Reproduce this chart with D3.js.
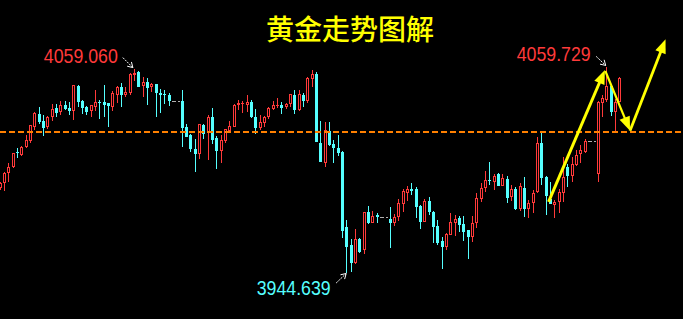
<!DOCTYPE html>
<html>
<head>
<meta charset="utf-8">
<style>
  html, body { margin: 0; padding: 0; background: #000; }
  svg { display: block; }
</style>
</head>
<body>
<div id="chart"></div>
<script src="https://cdn.jsdelivr.net/npm/d3@7"></script>
<script>
// candle values (null = no bars in that slot)
const open = [
  3992.2, 3994.9, 4000.8, 4003.8, 4012.4, 4010.7, 4015.0, 4018.7, 4026.5, 4033.7, 4029.7, 4026.5,
  4031.8, 4037.0, 4034.8, 4038.5, 4037.0, 4035.5, 4049.3, 4040.8, 4037.8, 4035.2, 4037.8, 4040.4,
  4040.4, 4039.6, 4037.8, 4044.5, 4049.0, 4044.3, 4045.6, 4055.5, 4057.2, 4049.3, 4051.6, 4048.6,
  4050.5, 4045.6, 4044.9, 4044.1, null, null, 4040.8, 4026.5, 4021.9, 4014.1, 4011.3, 4027.3,
  4022.9, 4031.8, 4020.1, 4013.1, 4018.7, 4024.3, 4026.5, 4038.5, 4039.3, 4038.9, 4040.4, 4031.8,
  4025.8, 4028.8, 4031.8, 4036.6, 4038.1, 4038.7, 4037.8, 4039.1, 4044.3, 4035.9, 4044.3, 4041.1,
  4053.4, 4056.1, 4017.6, 4006.4, 4024.1, 4016.9, 4014.6, 4012.4, 3970.5, 3960.3, 3950.1, 3963.7,
  3957.5, 3978.6, 3972.8, 3976.9, null, null, 3975.0, 3972.8, 3975.8, 3983.3, 3989.6, 3991.8,
  3991.5, 3982.1, 3973.4, 3985.1, 3978.8, 3970.9, 3962.7, 3959.4, 3966.1, 3972.8, 3975.4, 3972.1,
  3968.7, 3965.0, 3972.5, 3986.1, 3992.4, 3996.7, 3995.8, 4000.1, 3993.5, 3997.5, 3987.3, 3991.5,
  3980.3, 3992.1, 3980.6, 3983.7, 3990.2, 4017.3, 3998.2, 3985.9, 3982.7, 3984.6, 3989.6, 4003.8,
  3998.9, 4005.1, 4011.3, 4012.5, null, null, 4000.1, 4040.0, 4041.5, 4049.3, 4035.0, 4040.6
];
const high = [
  3995.6, 4001.3, 4006.1, 4011.8, 4014.5, 4015.7, 4021.9, 4027.5, 4035.0, 4037.4, 4032.9, 4032.5,
  4039.3, 4039.3, 4040.8, 4040.8, 4040.4, 4049.9, 4050.1, 4041.5, 4038.0, 4038.7, 4047.1, 4041.5,
  4049.9, 4039.8, 4046.7, 4049.3, 4050.9, 4048.6, 4056.4, 4059.06, 4057.5, 4054.2, 4053.8, 4051.2,
  4050.7, 4047.5, 4047.1, 4045.3, null, null, 4047.1, 4028.1, 4022.5, 4019.5, 4028.3, 4028.1,
  4032.9, 4036.9, 4021.3, 4021.7, 4025.3, 4029.6, 4039.3, 4041.5, 4040.8, 4044.3, 4041.5, 4036.3,
  4033.1, 4032.5, 4037.8, 4040.8, 4042.6, 4040.4, 4040.0, 4045.1, 4047.1, 4047.1, 4045.6, 4054.2,
  4058.3, 4057.4, 4029.9, 4029.4, 4029.2, 4019.1, 4021.9, 4013.1, 3974.3, 3963.5, 3969.1, 3964.1,
  3978.8, 3982.1, 3979.5, 3978.4, null, null, 3981.8, 3977.7, 3985.9, 3991.5, 3993.3, 3995.2,
  3993.0, 3982.7, 3985.9, 3987.3, 3979.5, 3974.3, 3964.6, 3966.9, 3978.4, 3976.9, 3976.5, 3976.5,
  3968.9, 3976.5, 3989.6, 3995.2, 4001.6, 4006.8, 4000.1, 4000.8, 4000.1, 3998.9, 3993.9, 3992.6,
  3995.2, 3998.5, 3985.5, 3991.1, 4021.0, 4023.2, 3998.9, 3995.8, 3985.5, 3991.5, 4009.4, 4005.7,
  4009.7, 4013.5, 4016.3, 4019.5, null, null, 4040.8, 4044.3, 4059.729, 4049.9, 4042.1, 4054.6
];
const low = [
  3991.1, 3990.7, 3995.8, 4003.4, 4008.9, 4010.4, 4014.5, 4017.3, 4024.7, 4028.1, 4021.3, 4025.4,
  4029.9, 4031.8, 4033.3, 4036.0, 4033.1, 4030.3, 4037.8, 4033.7, 4033.3, 4032.1, 4035.5, 4031.0,
  4032.0, 4026.5, 4035.5, 4039.6, 4037.4, 4043.0, 4044.3, 4052.3, 4048.6, 4043.3, 4038.9, 4046.2,
  4032.1, 4034.4, 4039.3, 4038.1, null, null, 4015.3, 4020.6, 4012.2, 4001.3, 4008.6, 4019.8,
  4007.9, 4016.9, 4002.9, 4006.4, 4017.3, 4024.0, 4026.3, 4035.9, 4034.4, 4035.0, 4031.4, 4022.5,
  4024.7, 4026.5, 4030.7, 4035.9, 4036.9, 4033.7, 4036.3, 4037.8, 4033.7, 4035.5, 4037.4, 4039.6,
  4049.0, 4018.0, 4006.8, 4004.2, 4016.0, 4006.4, 4010.1, 3964.1, 3944.639, 3945.4, 3949.9, 3955.7,
  3955.3, 3972.1, 3972.6, 3972.8, null, null, 3958.8, 3970.9, 3973.9, 3979.0, 3985.1, 3988.3,
  3975.4, 3969.4, 3973.2, 3976.9, 3961.6, 3960.3, 3947.0, 3957.5, 3965.7, 3965.3, 3967.6, 3962.7,
  3952.5, 3962.2, 3969.7, 3984.6, 3990.2, 3994.1, 3991.1, 3993.3, 3993.3, 3984.0, 3985.1, 3979.9,
  3979.5, 3975.8, 3975.3, 3978.4, 3989.6, 3993.9, 3977.1, 3983.0, 3975.3, 3978.4, 3984.6, 3992.9,
  3995.8, 4004.5, 4006.4, 4011.7, null, null, 3995.6, 4032.0, 4040.2, 4032.5, 4024.3, 4040.2
];
const close = [
  3995.0, 4000.5, 4003.8, 4011.7, 4011.7, 4015.0, 4019.1, 4027.3, 4034.4, 4029.2, 4025.8, 4031.8,
  4036.3, 4034.1, 4038.5, 4036.3, 4035.5, 4049.7, 4040.4, 4037.0, 4034.8, 4038.5, 4040.4, 4039.6,
  4038.5, 4038.3, 4045.3, 4049.0, 4044.5, 4046.2, 4056.1, 4056.8, 4049.0, 4051.6, 4048.2, 4050.5,
  4045.3, 4044.5, 4044.1, 4041.1, null, null, 4025.8, 4021.0, 4014.1, 4011.3, 4028.1, 4022.5,
  4031.8, 4019.1, 4013.1, 4019.1, 4025.1, 4026.9, 4038.7, 4039.6, 4040.0, 4040.4, 4031.8, 4025.8,
  4029.2, 4031.8, 4036.9, 4038.7, 4038.7, 4036.9, 4039.3, 4044.9, 4035.9, 4044.9, 4041.1, 4053.7,
  4056.1, 4018.2, 4007.0, 4024.7, 4016.3, 4014.6, 4011.7, 3968.3, 3959.4, 3950.4, 3963.5, 3956.5,
  3978.6, 3972.8, 3976.5, 3976.2, null, null, 3972.8, 3976.2, 3984.0, 3990.7, 3991.8, 3990.7,
  3981.4, 3973.4, 3985.1, 3978.8, 3970.2, 3961.6, 3959.0, 3966.5, 3973.4, 3974.7, 3971.7, 3967.6,
  3964.6, 3972.5, 3986.5, 3992.1, 3996.5, 3996.3, 3998.9, 3993.5, 3997.8, 3986.6, 3991.5, 3980.3,
  3993.3, 3980.6, 3983.7, 3989.6, 4017.3, 3997.7, 3987.7, 3983.3, 3984.6, 3990.2, 3998.5, 3998.9,
  4005.7, 4010.7, 4013.5, 4018.7, null, null, 4040.6, 4042.5, 4049.2, 4035.0, 4040.6, 4053.8
];

const refPrice = 4023.6;              // orange dashed level
const highIdx = [31, 140];            // marked highs
const lowIdx = 80;                    // marked low
// yellow trend arrows: [fromIndex, fromPrice, toIndex, toPrice]
const trendArrows = [
  [126.7, 3984.5, 139.7, 4058.3],
  [139.8, 4057.7, 145.5, 4024.3],
  [145.5, 4024.3, 153.7, 4075.5]
];
const title = "黄金走势图解";

const width = 683, height = 319;
const upColor = "#ff3a3a", downColor = "#55ffff";

const svg = d3.select("#chart").append("svg")
  .attr("width", width).attr("height", height)
  .style("background", "#000");

const x = d3.scaleLinear().domain([0, open.length - 1]).range([-0.5, 619.2]);
const y = d3.scaleLinear().domain([3944.639, 4059.4]).range([273, 68]);

const bars = d3.range(open.length).filter(i => open[i] != null).map(i => {
  const yo = y(open[i]), yc = y(close[i]);
  let top = Math.round(Math.min(yo, yc)), bot = Math.round(Math.max(yo, yc));
  if (bot - top < 1) bot = top + 1;
  return {
    i, cx: Math.round(x(i)), top, bot,
    hi: Math.round(y(high[i])), lo: Math.round(y(low[i])),
    up: close[i] >= open[i]
  };
});

const g = svg.append("g");

// wicks
g.selectAll(".wick").data(bars.filter(d => !d.up)).join("line")
  .attr("x1", d => d.cx + 0.5).attr("x2", d => d.cx + 0.5)
  .attr("y1", d => d.hi).attr("y2", d => d.lo)
  .attr("stroke", downColor);
g.selectAll(".wickUpT").data(bars.filter(d => d.up)).join("line")
  .attr("x1", d => d.cx + 0.5).attr("x2", d => d.cx + 0.5)
  .attr("y1", d => d.hi).attr("y2", d => d.top)
  .attr("stroke", upColor);
g.selectAll(".wickUpB").data(bars.filter(d => d.up)).join("line")
  .attr("x1", d => d.cx + 0.5).attr("x2", d => d.cx + 0.5)
  .attr("y1", d => d.bot).attr("y2", d => d.lo)
  .attr("stroke", upColor);

// bodies
g.selectAll(".down").data(bars.filter(d => !d.up)).join("rect")
  .attr("x", d => d.cx - 1).attr("y", d => d.top)
  .attr("width", 3).attr("height", d => d.bot - d.top)
  .attr("fill", downColor);
g.selectAll(".up").data(bars.filter(d => d.up)).join("rect")
  .attr("x", d => d.bot - d.top > 2 ? d.cx - 0.5 : d.cx - 1)
  .attr("y", d => d.bot - d.top > 2 ? d.top + 0.5 : d.top)
  .attr("width", d => d.bot - d.top > 2 ? 2 : 3)
  .attr("height", d => d.bot - d.top > 2 ? d.bot - d.top - 1 : d.bot - d.top)
  .attr("fill", d => d.bot - d.top > 2 ? "#000" : upColor)
  .attr("stroke", d => d.bot - d.top > 2 ? upColor : "none");

// gray dashes across gaps in the bars
const gaps = d3.range(1, open.length).filter(i => open[i] == null && open[i - 1] != null);
gaps.forEach(i => {
  let j = i; while (open[j] == null) j++;
  const yy = Math.round(y(close[i - 1])) + 0.5;
  svg.append("line")
    .attr("x1", Math.round(x(i - 1)) + 3).attr("x2", Math.round(x(j)) - 2)
    .attr("y1", yy).attr("y2", yy)
    .attr("stroke", "#b0b0b0").attr("stroke-dasharray", "4,2");
});

// orange reference level
svg.append("line")
  .attr("x1", 0).attr("x2", width)
  .attr("y1", Math.round(y(refPrice))).attr("y2", Math.round(y(refPrice)))
  .attr("stroke", "#ff8000").attr("stroke-width", 2)
  .attr("stroke-dasharray", "6,3");

// yellow trend arrows
const arrowWidths = [3, 2.2, 2.8];
trendArrows.forEach((a, k) => {
  const x1 = x(a[0]), y1 = y(a[1]), x2 = x(a[2]), y2 = y(a[3]);
  const len = Math.hypot(x2 - x1, y2 - y1);
  const ux = (x2 - x1) / len, uy = (y2 - y1) / len;
  const L = 14, W = 5.5;
  const bx = x2 - ux * L, by = y2 - uy * L;
  svg.append("line")
    .attr("x1", x1).attr("y1", y1).attr("x2", bx + ux * 2).attr("y2", by + uy * 2)
    .attr("stroke", "#ffff00").attr("stroke-width", arrowWidths[k]);
  svg.append("path")
    .attr("d", `M${x2},${y2}L${bx - uy * W},${by + ux * W}L${bx + uy * W},${by - ux * W}Z`)
    .attr("fill", "#ffff00");
});

// value labels with small white pointers
const fmt = d3.format(".3f");
const labels = [
  { i: highIdx[0], p: high[highIdx[0]], color: upColor, tx: -16, ty: -6, ax: [-11, -11], bx: [-1, -1] },
  { i: highIdx[1], p: high[highIdx[1]], color: upColor, tx: -15.5, ty: -6.7, ax: [-10, -11], bx: [-0.5, -2] },
  { i: lowIdx, p: low[lowIdx], color: downColor, tx: -15.5, ty: 21.5, ax: [-10, 10], bx: [0, 0.5] }
];
labels.forEach(l => {
  const px = x(l.i), py = y(l.p);
  svg.append("text")
    .attr("x", px + l.tx).attr("y", py + l.ty)
    .attr("text-anchor", "end")
    .attr("textLength", 74).attr("lengthAdjust", "spacingAndGlyphs")
    .attr("fill", l.color)
    .style("font", "21px 'Liberation Sans', Arial, sans-serif")
    .text(fmt(l.p));
  const x1 = px + l.ax[0], y1 = py + l.ax[1], x2 = px + l.bx[0], y2 = py + l.bx[1];
  const len = Math.hypot(x2 - x1, y2 - y1);
  const ux = (x2 - x1) / len, uy = (y2 - y1) / len;
  svg.append("line")
    .attr("x1", x1).attr("y1", y1).attr("x2", x2).attr("y2", y2)
    .attr("stroke", "#fff").attr("stroke-dasharray", "2,1");
  const hx = x2 - ux * 5, hy = y2 - uy * 5;
  svg.append("path")
    .attr("d", `M${hx - uy * 3},${hy + ux * 3}L${x2},${y2}L${hx + uy * 3},${hy - ux * 3}`)
    .attr("fill", "none").attr("stroke", "#fff");
});

// title
svg.append("text")
  .attr("x", 350).attr("y", 40)
  .attr("text-anchor", "middle")
  .attr("fill", "#ffff00")
  .style("font", "500 28px 'Noto Sans CJK SC', sans-serif")
  .text(title);
</script>
</body>
</html>
